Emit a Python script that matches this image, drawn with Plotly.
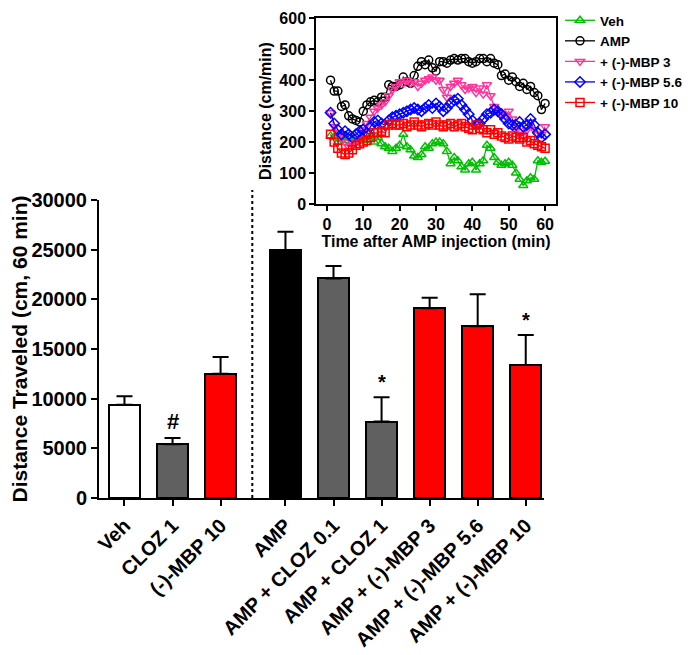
import plotly.graph_objects as go

# bar chart data
groups = ['Veh', 'CLOZ 1', '(-)-MBP 10', 'AMP', 'AMP + CLOZ 0.1', 'AMP + CLOZ 1',
          'AMP + (-)-MBP 3', 'AMP + (-)-MBP 5.6', 'AMP + (-)-MBP 10']
dist_mean = [9400, 5400, 12500, 24950, 22100, 7700, 19100, 17300, 13400]
dist_sem = [850, 650, 1700, 1850, 1250, 2450, 1050, 3200, 3000]
bar_colors = ['#ffffff', '#606060', '#ff0000', '#000000', '#606060', '#606060',
              '#ff0000', '#ff0000', '#ff0000']
sig_marks = ['', '#', '', '', '', '*', '', '', '*']

# inset time course (cm/min per minute)
minutes = list(range(1, 61))
veh = [220, 215, 200, 210, 205, 215, 200, 205, 210, 215, 205, 220, 200, 215, 195,
       185, 180, 170, 180, 190, 225, 185, 175, 155, 150, 160, 185, 180, 195, 200,
       200, 195, 170, 130, 150, 140, 120, 110, 130, 135, 110, 130, 140, 190, 180,
       150, 135, 125, 130, 135, 125, 100, 80, 60, 75, 85, 80, 140, 135, 138]
amp = [400, 365, 365, 315, 320, 285, 275, 270, 265, 300, 320, 330, 335, 330, 345,
       345, 385, 380, 380, 385, 410, 395, 390, 415, 445, 460, 450, 465, 440, 430,
       460, 460, 455, 465, 470, 465, 470, 470, 460, 455, 460, 470, 470, 460, 470,
       455, 450, 415, 420, 400, 410, 395, 380, 390, 370, 380, 360, 350, 305, 325]
mbp3 = [295, 250, 230, 225, 200, 185, 190, 200, 210, 240, 260, 280, 300, 310, 320,
        330, 350, 370, 380, 395, 390, 400, 390, 395, 380, 390, 400, 405, 410, 400,
        400, 370, 345, 380, 390, 400, 385, 370, 375, 380, 360, 375, 355, 385, 350,
        315, 300, 290, 285, 300, 275, 240, 225, 220, 240, 265, 240, 225, 225, 250]
mbp56 = [295, 260, 240, 225, 235, 225, 215, 225, 235, 240, 230, 250, 265, 270, 260,
         255, 270, 280, 285, 290, 295, 300, 305, 310, 305, 300, 310, 320, 310, 325,
         315, 300, 310, 325, 335, 340, 320, 305, 290, 270, 255, 260, 275, 290, 295,
         305, 300, 290, 275, 260, 255, 255, 265, 250, 255, 275, 255, 230, 215, 225]
mbp10 = [225, 200, 180, 165, 160, 165, 175, 190, 195, 200, 205, 215, 230, 230, 235,
         230, 255, 260, 255, 255, 260, 250, 255, 265, 255, 250, 255, 260, 255, 265,
         255, 250, 255, 260, 250, 255, 260, 250, 245, 240, 255, 245, 240, 230, 240,
         225, 230, 220, 215, 210, 220, 215, 210, 215, 200, 205, 195, 190, 185, 180]

series = [
    ('Veh', veh, '#00c000', 'triangle-up-open'),
    ('AMP', amp, '#000000', 'circle-open'),
    ('+ (-)-MBP 3', mbp3, '#ff3399', 'triangle-down-open'),
    ('+ (-)-MBP 5.6', mbp56, '#0000ff', 'diamond-open'),
    ('+ (-)-MBP 10', mbp10, '#ff0000', 'square-open'),
]

FONT = 'Liberation Sans, Arial, sans-serif'
W, H = 694, 655


# page body has an 8px margin; convert screen pixels to paper coords
def px(x):
    return (x - 8) / W


def py(y):
    return 1 - (y - 8) / H


# group positions: gap between baseline and AMP groups
gap = 0.35
xpos = [i + (gap if i >= 3 else 0) for i in range(len(groups))]

fig = go.Figure()

fig.add_trace(go.Bar(
    x=xpos, y=dist_mean, width=0.64,
    marker=dict(color=bar_colors, line=dict(color='black', width=2)),
    error_y=dict(type='data', array=dist_sem, arrayminus=[0] * len(dist_sem),
                 symmetric=False, color='black', thickness=2, width=8),
    showlegend=False, xaxis='x', yaxis='y',
))

for xi, m, s, t in zip(xpos, dist_mean, dist_sem, sig_marks):
    if t:
        fig.add_annotation(x=xi, y=m + s, text=t, showarrow=False, yanchor='bottom',
                           yshift=2, xref='x', yref='y',
                           font=dict(family=FONT, size=22 if t == '#' else 20,
                                     color='black', weight='bold'))

for name, vals, col, sym in series:
    fig.add_trace(go.Scatter(
        x=minutes, y=vals, name=name, mode='lines+markers',
        line=dict(color=col, width=1.3),
        marker=dict(symbol=sym, size=8, color=col, line=dict(width=1.5, color=col)),
        xaxis='x2', yaxis='y2',
    ))

# dotted separator
fig.add_shape(type='line', xref='x', yref='paper', x0=2.66, x1=2.66,
              y0=py(498), y1=py(190),
              line=dict(color='black', width=2, dash='dot'))

bold = dict(family=FONT, color='black', weight='bold')

fig.update_layout(
    width=W, height=H,
    margin=dict(l=0, r=0, t=0, b=0, autoexpand=False),
    paper_bgcolor='white', plot_bgcolor='white',
    font=dict(family=FONT, color='black'),
    bargap=0,
    xaxis=dict(
        domain=[px(99), px(544)], range=[-0.53, 8.73],
        tickmode='array', tickvals=xpos, ticktext=groups, tickangle=-45,
        tickfont=dict(size=20, **bold),
        showline=True, linecolor='black', linewidth=2,
        ticks='outside', ticklen=6, tickwidth=2, tickcolor='black',
        showgrid=False, zeroline=False, automargin=False, anchor='y',
    ),
    yaxis=dict(
        domain=[py(498), py(200)], range=[0, 30000],
        tickvals=[0, 5000, 10000, 15000, 20000, 25000, 30000], tickformat='d',
        tickfont=dict(size=20, **bold),
        title=dict(text='Distance Traveled (cm, 60 min)', font=dict(size=21, **bold),
                   standoff=12),
        showline=True, linecolor='black', linewidth=2,
        ticks='outside', ticklen=6, tickwidth=2, tickcolor='black',
        showgrid=False, zeroline=False, automargin=False, anchor='x',
    ),
    xaxis2=dict(
        domain=[px(316), px(556)], range=[-3, 63],
        tickvals=[0, 10, 20, 30, 40, 50, 60],
        tickfont=dict(size=16, **bold),
        title=dict(text='Time after AMP injection (min)', font=dict(size=16, **bold),
                   standoff=0),
        showline=True, mirror=True, linecolor='black', linewidth=1.5,
        ticks='outside', ticklen=5, tickwidth=1.5, tickcolor='black',
        showgrid=False, zeroline=False, automargin=False, anchor='y2',
    ),
    yaxis2=dict(
        domain=[py(204), py(18)], range=[0, 601],
        tickvals=[0, 100, 200, 300, 400, 500, 600],
        tickfont=dict(size=16, **bold), ticklabeloverflow='allow',
        title=dict(text='Distance (cm/min)', font=dict(size=16, **bold), standoff=4),
        showline=True, mirror=True, linecolor='black', linewidth=1.5,
        ticks='outside', ticklen=5, tickwidth=1.5, tickcolor='black',
        showgrid=False, zeroline=False, automargin=False, anchor='x2',
    ),
    legend=dict(x=552 / W, y=1 + 3 / H, xanchor='left', yanchor='top',
                font=dict(size=13.5, **bold), bgcolor='rgba(0,0,0,0)',
                itemwidth=30, tracegroupgap=0),
)

fig.write_html('out.html')
